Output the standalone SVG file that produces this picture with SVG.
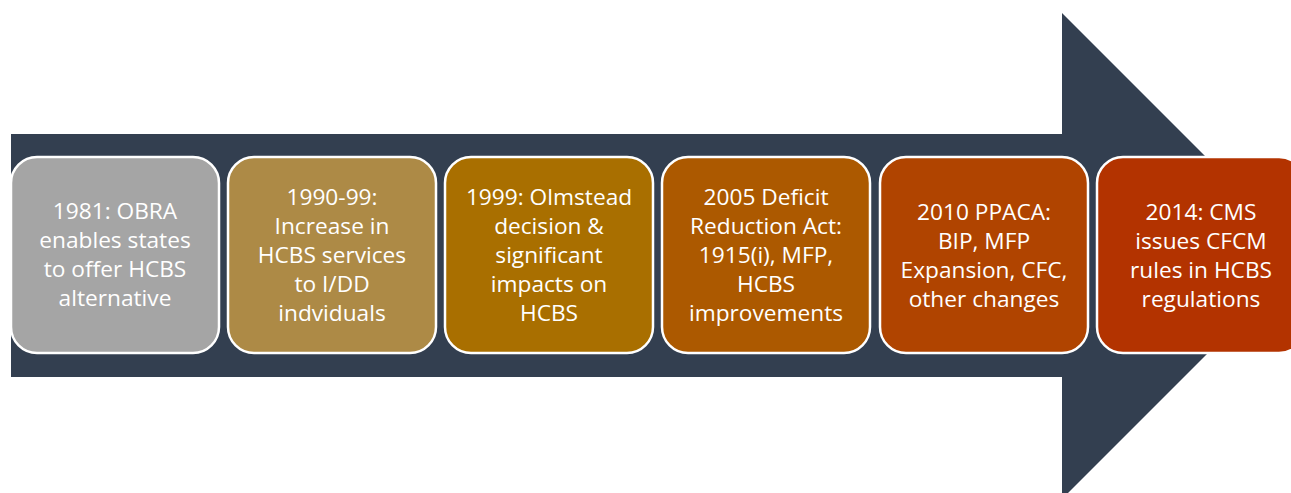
<svg xmlns="http://www.w3.org/2000/svg" width="1291" height="493" viewBox="0 0 1291 493">
<style>
.box{stroke:#ffffff;stroke-width:2.5}
.t{font-family:"Open Sans","Noto Sans","Liberation Sans",sans-serif;font-size:22.7px;fill:#ffffff;text-anchor:middle}
</style>
<rect width="1291" height="493" fill="#ffffff"/>
<g id="arrow">
<polygon points="11,134 1062,134 1062,13 1305,256 1062,499 1062,377 11,377" fill="#333F50"/>
</g>
<g id="n1"><rect class="box" x="11" y="157" width="208" height="196" rx="26" fill="#A5A5A5"/>
<text class="t" x="115" y="219">1981: OBRA</text><text class="t" x="115" y="248">enables states</text><text class="t" x="115" y="277">to offer HCBS</text><text class="t" x="115" y="306">alternative</text></g>
<g id="n2"><rect class="box" x="228" y="157" width="208" height="196" rx="26" fill="#AD8A46"/>
<text class="t" x="332" y="205">1990-99:</text><text class="t" x="332" y="234">Increase in</text><text class="t" x="332" y="263">HCBS services</text><text class="t" x="332" y="292">to I/DD</text><text class="t" x="332" y="321">indviduals</text></g>
<g id="n3"><rect class="box" x="445" y="157" width="208" height="196" rx="26" fill="#A96F00"/>
<text class="t" x="549" y="205">1999: Olmstead</text><text class="t" x="549" y="234">decision &amp;</text><text class="t" x="549" y="263">significant</text><text class="t" x="549" y="292">impacts on</text><text class="t" x="549" y="321">HCBS</text></g>
<g id="n4"><rect class="box" x="662" y="157" width="208" height="196" rx="26" fill="#AC5900"/>
<text class="t" x="766" y="205">2005 Deficit</text><text class="t" x="766" y="234">Reduction Act:</text><text class="t" x="766" y="263">1915(i), MFP,</text><text class="t" x="766" y="292">HCBS</text><text class="t" x="766" y="321">improvements</text></g>
<g id="n5"><rect class="box" x="880" y="157" width="208" height="196" rx="26" fill="#B04400"/>
<text class="t" x="984" y="220">2010 PPACA:</text><text class="t" x="984" y="249">BIP, MFP</text><text class="t" x="984" y="278">Expansion, CFC,</text><text class="t" x="984" y="307">other changes</text></g>
<g id="n6"><rect class="box" x="1097" y="157" width="208" height="196" rx="26" fill="#B33300"/>
<text class="t" x="1201" y="220">2014: CMS</text><text class="t" x="1201" y="249">issues CFCM</text><text class="t" x="1201" y="278">rules in HCBS</text><text class="t" x="1201" y="307">regulations</text></g>
<g id="connectors"></g>
</svg>
